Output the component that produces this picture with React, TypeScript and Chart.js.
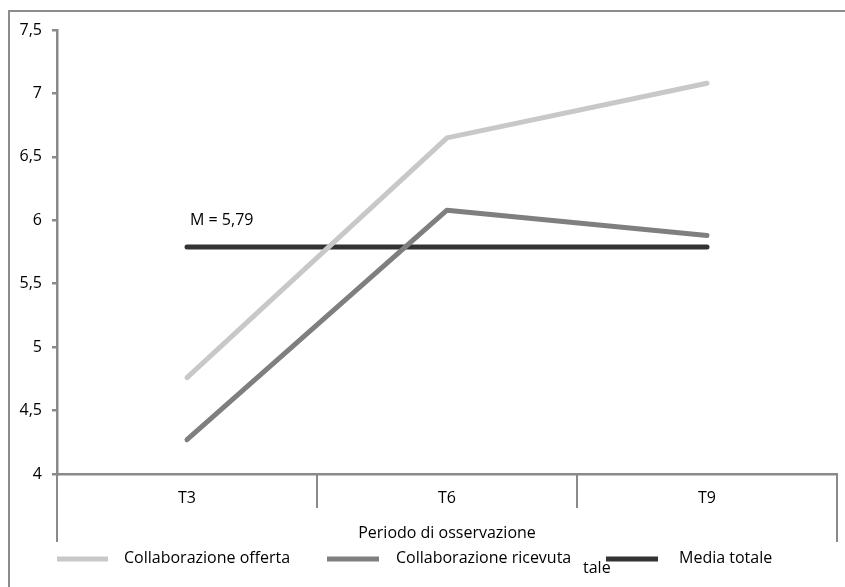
import React, { useEffect, useRef } from "react";
import { Chart, registerables } from "chart.js";

Chart.register(...registerables);

const categories = ["T3", "T6", "T9"];
const offerta = [4.76, 6.65, 7.08];
const ricevuta = [4.27, 6.08, 5.88];
const mediaTotale = [5.79, 5.79, 5.79];
const seriesLabels = ["Collaborazione offerta", "Collaborazione ricevuta", "Media totale"];
const seriesColors = ["#c8c8c8", "#7f7f7f", "#333333"];
const annotationText = "M = 5,79";
const axisTitle = "Periodo di osservazione";
const strayText = "tale";

const FONT = "'Open Sans', Lato, sans-serif";
const FS = 16;
const TEXT = "#000000";

const decorPlugin = {
  id: "decor",
  afterDraw(chart: any) {
    const ctx = chart.ctx;
    const area = chart.chartArea;
    const x = chart.scales.x;
    const y = chart.scales.y;
    ctx.save();
    // outer frame
    ctx.strokeStyle = "#8c8c8c";
    ctx.lineWidth = 2;
    ctx.strokeRect(9, 11, 900, 700);

    // category separators under x-axis
    ctx.strokeStyle = "#8a8a8a";
    ctx.lineWidth = 2;
    const n = categories.length;
    const step = (area.right - area.left) / n;
    for (let i = 0; i <= n; i++) {
      const px = area.left + step * i;
      const outer = i === 0 || i === n;
      ctx.beginPath();
      ctx.moveTo(px, area.bottom);
      ctx.lineTo(px, area.bottom + (outer ? 68 : 34));
      ctx.stroke();
    }

    // annotation
    ctx.fillStyle = TEXT;
    ctx.font = FS + "px " + FONT;
    ctx.textAlign = "left";
    ctx.textBaseline = "middle";
    ctx.fillText(annotationText, x.getPixelForValue(0) + 3, y.getPixelForValue(mediaTotale[0]) - 26);

    // legend
    const legendY = 559;
    const items = [
      { x0: 57, x1: 108, tx: 124 },
      { x0: 327, x1: 379, tx: 396 },
      { x0: 606, x1: 658, tx: 679 },
    ];
    chart.data.datasets.forEach((ds: any, i: number) => {
      const it = items[i];
      ctx.strokeStyle = ds.borderColor;
      ctx.lineWidth = 5;
      ctx.lineCap = "butt";
      ctx.beginPath();
      ctx.moveTo(it.x0, legendY);
      ctx.lineTo(it.x1, legendY);
      ctx.stroke();
      ctx.fillStyle = TEXT;
      ctx.fillText(ds.label, it.tx, legendY - 1);
    });
    ctx.fillText(strayText, 583, 568);
    ctx.restore();
  },
};

export default function App() {
  const ref = useRef<HTMLCanvasElement>(null);
  useEffect(() => {
    if (!ref.current) return;
    const chart = new Chart(ref.current, {
      type: "line",
      data: {
        labels: categories,
        datasets: [
          { label: seriesLabels[0], data: offerta, borderColor: seriesColors[0], backgroundColor: seriesColors[0] },
          { label: seriesLabels[1], data: ricevuta, borderColor: seriesColors[1], backgroundColor: seriesColors[1] },
          { label: seriesLabels[2], data: mediaTotale, borderColor: seriesColors[2], backgroundColor: seriesColors[2] },
        ].map((d) => ({
          ...d,
          borderWidth: 5,
          pointRadius: 0,
          pointHoverRadius: 0,
          tension: 0,
          borderCapStyle: "round" as const,
          borderJoinStyle: "round" as const,
        })),
      },
      options: {
        animation: false,
        responsive: false,
        devicePixelRatio: 1,
        layout: { padding: { left: 0, right: 8, top: 30, bottom: 0 } },
        plugins: {
          legend: { display: false },
          tooltip: { enabled: false },
        },
        scales: {
          x: {
            type: "category",
            offset: true,
            grid: { display: false },
            border: { display: true, color: "#8a8a8a", width: 2.5 },
            ticks: {
              color: TEXT,
              font: { family: FONT, size: FS },
              padding: 7,
              maxRotation: 0,
            },
            title: {
              display: true,
              text: axisTitle,
              color: TEXT,
              font: { family: FONT, size: FS },
              padding: { top: 0, bottom: 44 },
            },
            afterFit(scale: any) {
              scale.height = 113;
            },
          },
          y: {
            min: 4,
            max: 7.5,
            grid: {
              drawOnChartArea: false,
              drawTicks: true,
              tickLength: 5,
              color: "#8a8a8a",
              lineWidth: 2.5,
            },
            border: { display: true, color: "#8a8a8a", width: 2.5 },
            ticks: {
              stepSize: 0.5,
              color: TEXT,
              font: { family: FONT, size: FS },
              padding: 10,
              callback: (v: any) => String(v).replace(".", ","),
            },
            afterFit(scale: any) {
              scale.width = 57;
            },
          },
        },
      },
      plugins: [decorPlugin],
    });
    return () => chart.destroy();
  }, []);
  return (
    <div style={{ position: "fixed", left: 0, top: 0, width: 845, height: 587, background: "#fff" }}>
      <canvas ref={ref} width={845} height={587} style={{ width: 845, height: 587, display: "block" }} />
    </div>
  );
}
